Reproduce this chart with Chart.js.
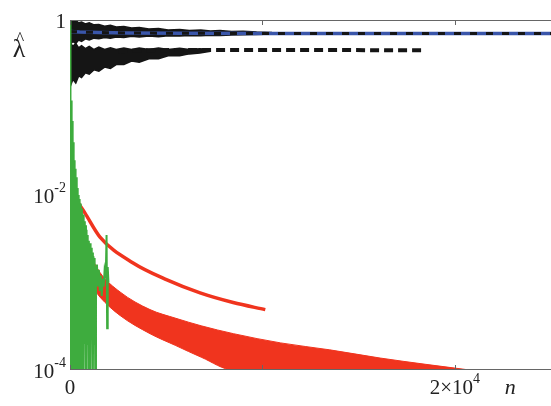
<!DOCTYPE html>
<html>
<head>
<meta charset="utf-8">
<script src="https://cdn.jsdelivr.net/npm/chart.js@4.4.1/dist/chart.umd.min.js"></script>
<style>
  html, body { margin: 0; padding: 0; background: #fff; }
  .wrap { width: 551px; height: 406px; }
</style>
</head>
<body>
<div class="wrap"><canvas id="lam"></canvas></div>
<script>
// ticks
const xTicks = [0, 10000, 20000];
const xLabels = ['0', '', '2×10|4'];
const yTicks = [1, 0.1, 0.01, 0.001, 0.0001];
const yLabels = ['1', '', '10|-2', '', '10|-4'];

// blue curve (with black dashes on it)
const blueN = [0, 500, 1500, 3000, 6000, 10000, 15000, 20000, 25000];
const blueV = [0.74, 0.73, 0.72, 0.71, 0.705, 0.70, 0.70, 0.70, 0.70];

// black noise around blue curve: envelope
const topNoiseN = [0, 150, 300, 450, 600, 800, 1000, 1250, 1500, 1800, 2100, 2400, 2800, 3200, 3600, 4100, 4600, 5100, 5700, 6200, 6800, 7300, 7800, 8400, 9000, 9700, 10500];
const topNoiseHi = [1.0, 0.96, 0.99, 0.93, 0.95, 0.9, 0.93, 0.88, 0.89, 0.85, 0.87, 0.83, 0.84, 0.81, 0.82, 0.79, 0.8, 0.77, 0.78, 0.76, 0.77, 0.75, 0.76, 0.74, 0.745, 0.73, 0.72];
const topNoiseLo = [0.52, 0.57, 0.54, 0.59, 0.57, 0.61, 0.59, 0.62, 0.61, 0.63, 0.62, 0.64, 0.63, 0.65, 0.64, 0.655, 0.645, 0.66, 0.655, 0.665, 0.66, 0.67, 0.665, 0.675, 0.68, 0.685, 0.69];

// second black curve (dashed) and its noise envelope
const midN = [2500, 4000, 6000, 8000, 11000, 14000, 16500, 18500];
const midV = [0.44, 0.45, 0.455, 0.455, 0.455, 0.455, 0.45, 0.45];
const midNoiseN = [0, 150, 300, 450, 600, 800, 1000, 1250, 1500, 1800, 2100, 2400, 2800, 3200, 3600, 4100, 4600, 5100, 5700, 6200, 6750, 7300];
const midNoiseHi = [0.55, 0.5, 0.54, 0.48, 0.51, 0.47, 0.5, 0.46, 0.49, 0.46, 0.48, 0.46, 0.48, 0.46, 0.48, 0.46, 0.48, 0.46, 0.475, 0.46, 0.47, 0.46];
const midNoiseLo = [0.17, 0.21, 0.19, 0.23, 0.22, 0.25, 0.24, 0.27, 0.26, 0.29, 0.28, 0.31, 0.31, 0.34, 0.33, 0.36, 0.36, 0.39, 0.39, 0.41, 0.42, 0.44];

// red solid curve
const redN = [0, 300, 780, 1560, 3280, 5040, 6760, 8480, 10150];
const redV = [0.012, 0.009, 0.0062, 0.0033, 0.00167, 0.00107, 0.00076, 0.00059, 0.00049];

// red band (filled between upper and lower edge)
const bandN = [0, 200, 520, 1000, 1560, 2600, 4160, 5500, 6820, 8500, 10950, 13500, 16120, 18500, 20770];
const bandHi = [0.011, 0.008, 0.004, 0.0022, 0.0013, 0.00078, 0.00049, 0.00039, 0.00032, 0.00026, 0.000204, 0.00017, 0.000137, 0.000116, 0.0001];
const bandLo = [0.0001, 0.0003, 0.0012, 0.001, 0.00068, 0.00042, 0.00026, 0.00019, 0.00014, 0.0001, 0.0001, 0.0001, 0.0001, 0.0001, 0.0001];

// green noisy curve
const greenN = [0, 10, 25, 40, 55, 70, 85, 100, 115, 130, 145, 160, 175, 190, 205, 220, 240, 260, 280, 300, 320, 340, 360, 380, 400, 425, 450, 475, 500, 530, 560, 590, 620, 650, 680, 710, 740, 770, 800, 830, 860, 890, 920, 950, 980, 1010, 1040, 1070, 1100, 1130, 1160, 1190, 1220, 1250, 1280, 1310, 1350, 1400, 1450, 1500, 1550, 1600, 1650, 1700, 1750, 1800, 1860, 1900, 1930, 1960, 2000];
const greenV = [1.0, 0.0001, 0.3, 0.0001, 0.12, 0.0002, 0.09, 0.0001, 0.07, 0.0003, 0.05, 0.0001, 0.04, 0.0002, 0.03, 0.0001, 0.025, 0.0002, 0.02, 0.0001, 0.016, 0.0003, 0.014, 0.0001, 0.012, 0.0002, 0.01, 0.0001, 0.009, 0.0002, 0.008, 0.0001, 0.007, 0.0003, 0.006, 0.0001, 0.005, 0.0002, 0.0045, 0.0001, 0.004, 0.0002, 0.0035, 0.0001, 0.003, 0.0002, 0.0028, 0.0001, 0.0025, 0.0003, 0.0022, 0.0001, 0.002, 0.0002, 0.0019, 0.0001, 0.0012, 0.0016, 0.0009, 0.0014, 0.0008, 0.0012, 0.0007, 0.0011, 0.0009, 0.0014, 0.0012, 0.0035, 0.0003, 0.0015, 0.001];

const pts = (ns, vs) => ns.map((n, i) => ({ x: n, y: vs[i] }));

const BLUE = 'rgb(58, 86, 170)';
const RED = 'rgb(240, 52, 30)';
const GREEN = 'rgb(62, 172, 62)';
const INK = '#151515';

// axes, ticks and labels drawn by hand so the superscripts look right
const frame = {
  id: 'frame',
  afterDatasetsDraw(chart) {
    const ctx = chart.ctx;
    const a = chart.chartArea;
    const xs = chart.scales.x, ys = chart.scales.y;
    ctx.save();
    ctx.strokeStyle = '#666';
    ctx.lineWidth = 1;
    ctx.beginPath();
    ctx.moveTo(a.left, a.top + 0.5); ctx.lineTo(a.right, a.top + 0.5);
    ctx.moveTo(a.left, a.bottom - 0.5); ctx.lineTo(a.right, a.bottom - 0.5);
    ctx.stroke();
    xTicks.forEach(v => {
      const px = Math.round(xs.getPixelForValue(v)) + 0.5;
      ctx.beginPath();
      ctx.moveTo(px, a.top); ctx.lineTo(px, a.top + 5);
      ctx.moveTo(px, a.bottom); ctx.lineTo(px, a.bottom - 5);
      ctx.stroke();
    });
    ctx.fillStyle = '#222';
    const sup = (txt, x, y, align, big, small) => {
      const [base, exp] = txt.split('|');
      ctx.font = big + 'px "Liberation Serif", serif';
      const wb = ctx.measureText(base).width;
      ctx.font = small + 'px "Liberation Serif", serif';
      const we = exp ? ctx.measureText(exp).width : 0;
      let x0 = x;
      if (align === 'right') x0 = x - wb - we;
      if (align === 'center') x0 = x - (wb + we) / 2;
      ctx.textAlign = 'left';
      ctx.textBaseline = 'middle';
      ctx.font = big + 'px "Liberation Serif", serif';
      ctx.fillText(base, x0, y);
      if (exp) {
        ctx.font = small + 'px "Liberation Serif", serif';
        ctx.fillText(exp, x0 + wb, y - 9);
      }
    };
    yTicks.forEach((v, i) => {
      if (!yLabels[i]) return;
      const py = ys.getPixelForValue(v);
      sup(yLabels[i], a.left - 4, py + 2, 'right', 21, 14);
    });
    xTicks.forEach((v, i) => {
      if (!xLabels[i]) return;
      const px = xs.getPixelForValue(v);
      sup(xLabels[i], px, a.bottom + 18, 'center', 21, 14);
    });
    ctx.font = 'italic 22px "Liberation Serif", serif';
    ctx.textAlign = 'left';
    ctx.textBaseline = 'middle';
    ctx.fillText('n', xs.getPixelForValue(20000) + 50, a.bottom + 18);
    ctx.font = '26px "Liberation Serif", serif';
    ctx.textAlign = 'center';
    ctx.fillText('λ', 19, 50);
    ctx.font = '18px "Liberation Serif", serif';
    ctx.fillText('^', 20, 40);
    ctx.restore();
  }
};

const smooth = { cubicInterpolationMode: 'monotone' };

new Chart(document.getElementById('lam'), {
  type: 'line',
  data: {
    datasets: [
      { data: pts(greenN, greenV), borderColor: GREEN, borderWidth: 2, order: 0 },
      { data: pts(redN, redV), borderColor: RED, borderWidth: 3.5, order: 1, ...smooth },
      { data: pts(bandN, bandHi), borderColor: RED, borderWidth: 1, backgroundColor: RED, fill: '+1', order: 2, ...smooth },
      { data: pts(bandN, bandLo), borderColor: RED, borderWidth: 1, order: 3, ...smooth },
      { data: pts(midN, midV), borderColor: INK, borderWidth: 4, borderDash: [9, 5], order: 4 },
      { data: pts(midNoiseN, midNoiseHi), borderColor: INK, borderWidth: 1.5, backgroundColor: INK, fill: '+1', order: 5 },
      { data: pts(midNoiseN, midNoiseLo), borderColor: INK, borderWidth: 1.5, order: 6 },
      { data: pts(blueN, blueV), borderColor: INK, borderWidth: 3, borderDash: [7, 9], order: 7 },
      { data: pts(blueN, blueV), borderColor: BLUE, borderWidth: 3.5, order: 8 },
      { data: pts(topNoiseN, topNoiseHi), borderColor: INK, borderWidth: 1.5, backgroundColor: INK, fill: '+1', order: 9 },
      { data: pts(topNoiseN, topNoiseLo), borderColor: INK, borderWidth: 1.5, order: 10 }
    ]
  },
  options: {
    responsive: true,
    maintainAspectRatio: false,
    animation: false,
    layout: { padding: { left: 70, top: 20, right: 0, bottom: 36 } },
    elements: { point: { radius: 0 }, line: { tension: 0 } },
    scales: {
      x: { type: 'linear', min: 0, max: 25000, display: false },
      y: { type: 'logarithmic', min: 0.0001, max: 1, display: false }
    },
    plugins: { legend: { display: false }, tooltip: { enabled: false } }
  },
  plugins: [frame]
});
</script>
</body>
</html>
